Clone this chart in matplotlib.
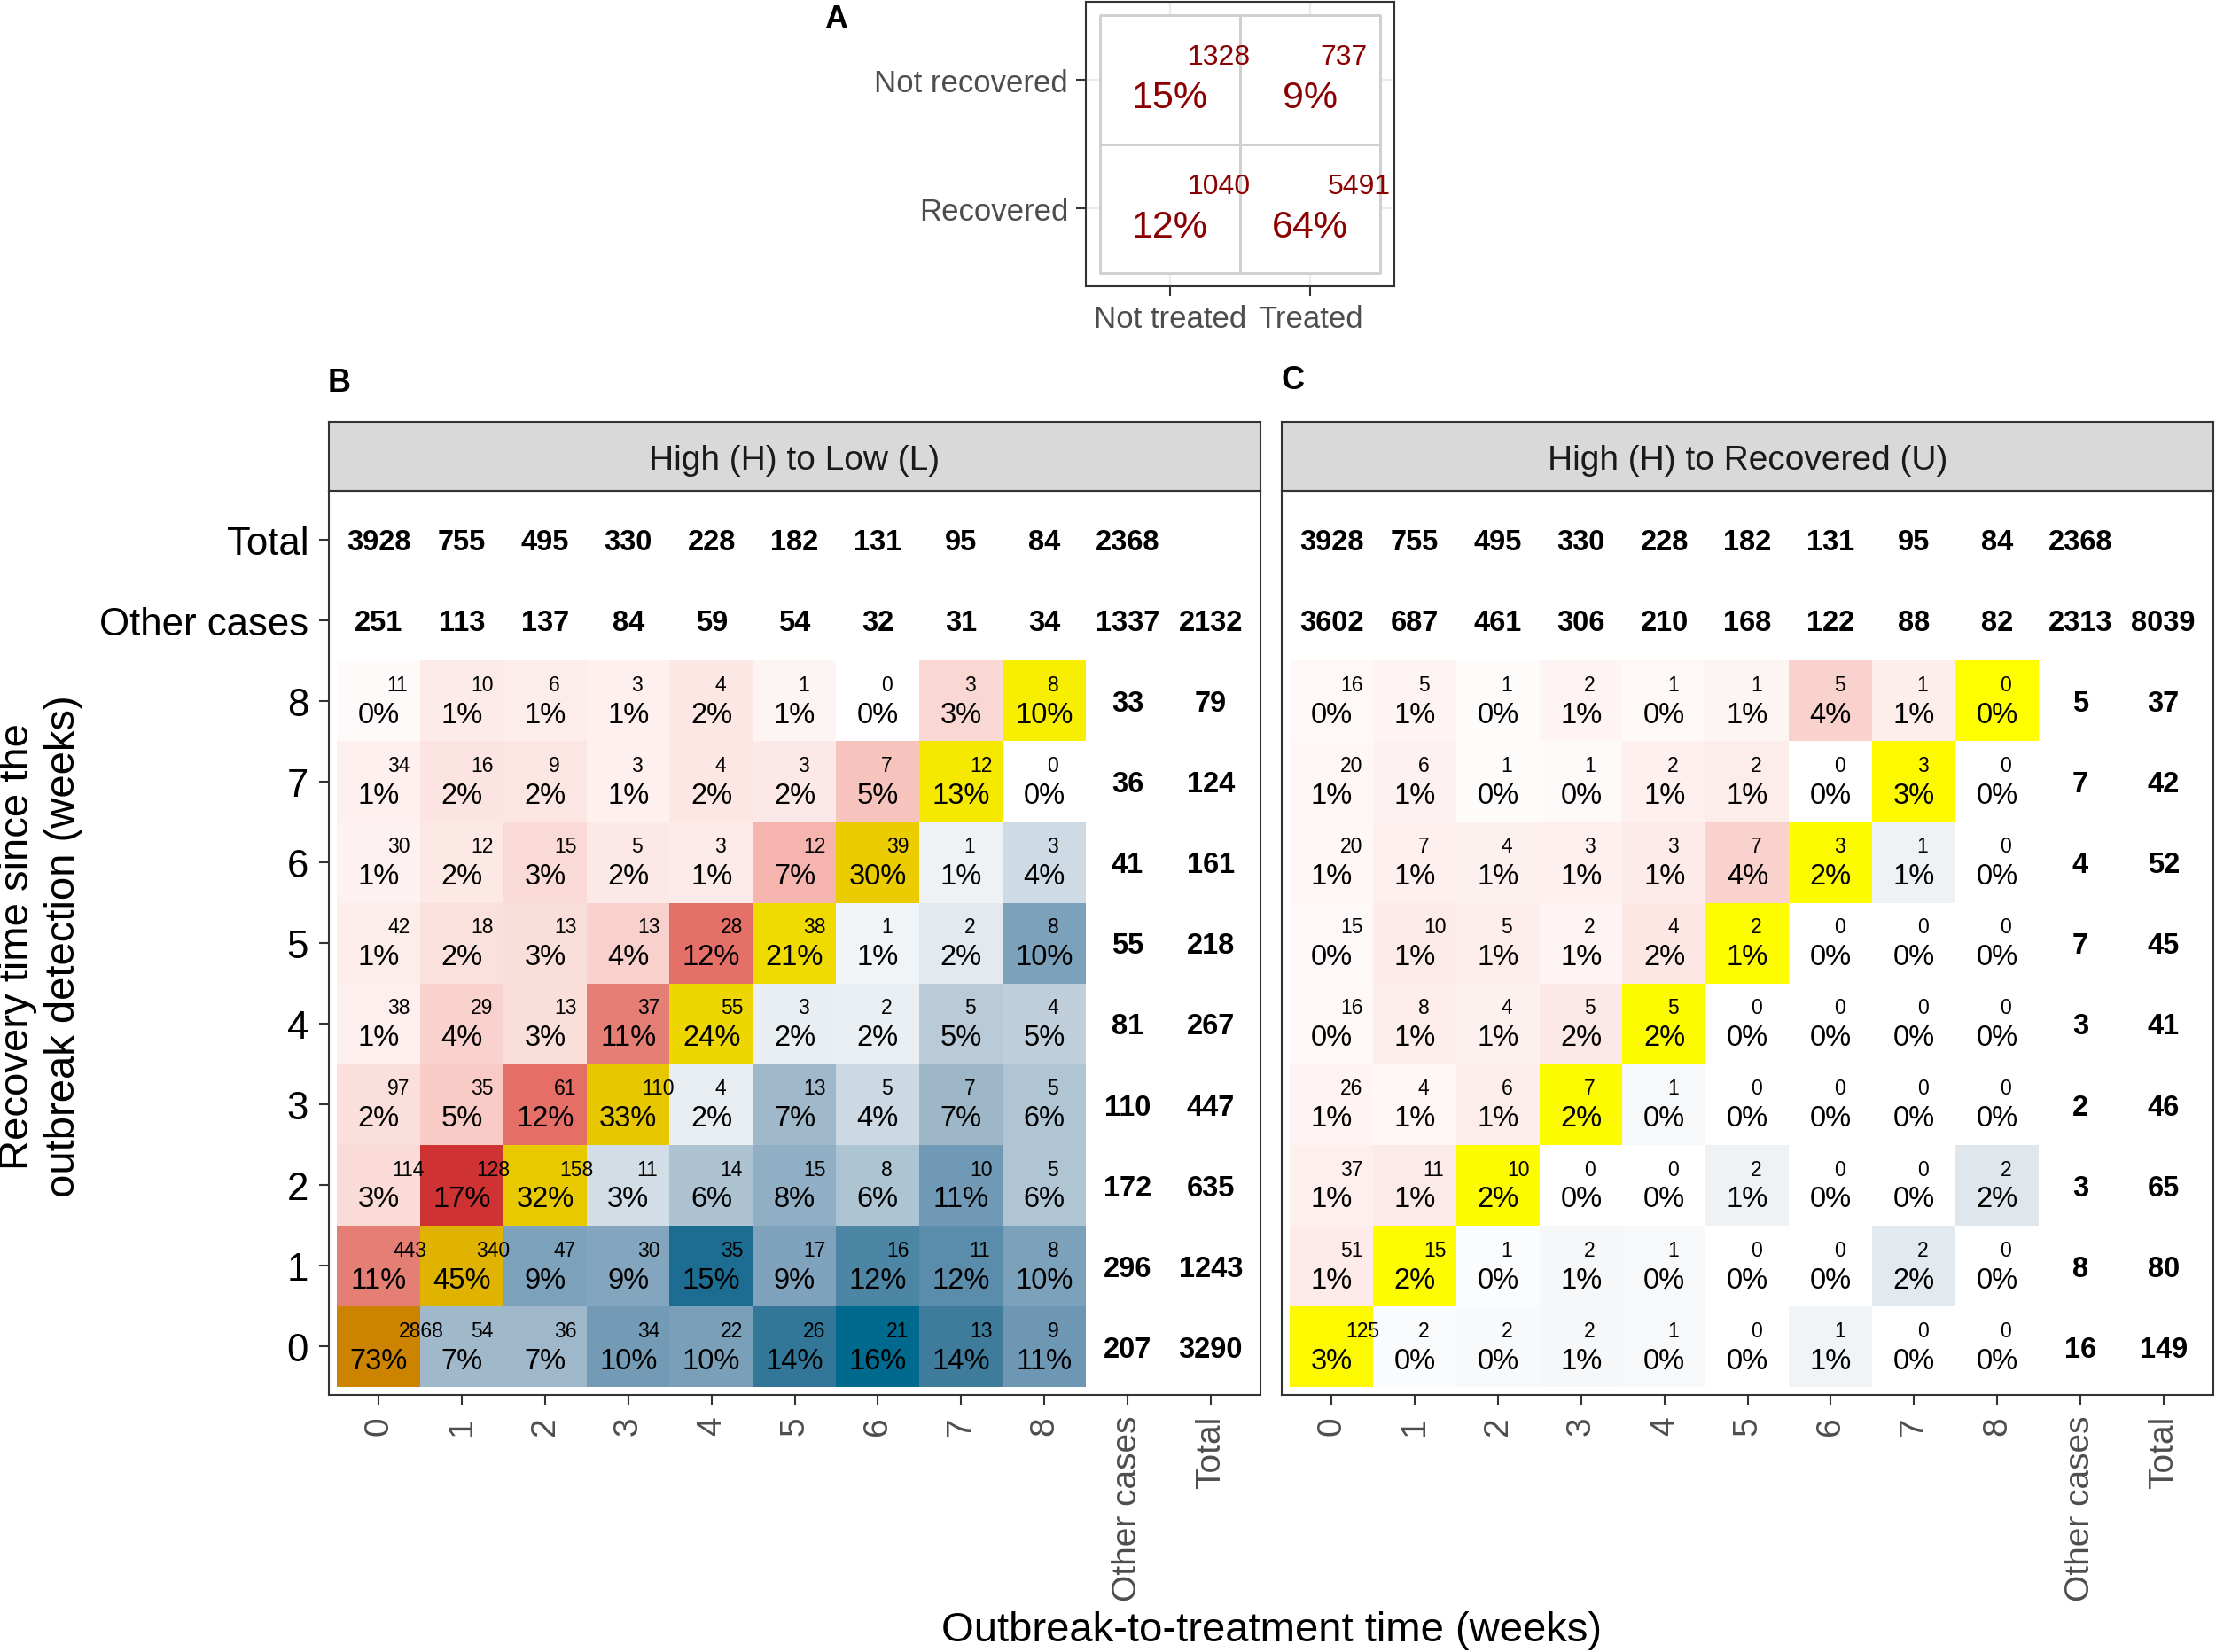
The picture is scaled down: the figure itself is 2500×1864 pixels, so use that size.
import numpy as np
import matplotlib
matplotlib.use("Agg")
import matplotlib.pyplot as plt
from matplotlib.colors import LinearSegmentedColormap, ListedColormap, to_rgb

plt.rcParams['font.family'] = ['Liberation Sans', 'DejaVu Sans']

# ---------------- data ----------------
week_labels = ['0', '1', '2', '3', '4', '5', '6', '7', '8']
axis_labels = week_labels + ['Other cases', 'Total']

# Total row (column totals) shared by panels B and C
total_row = [3928, 755, 495, 330, 228, 182, 131, 95, 84, 2368]

# Panel B: High (H) to Low (L); rows = recovery week 0..8, cols = treatment week 0..8
hl_counts = [
    [2868, 54, 36, 34, 22, 26, 21, 13, 9],
    [443, 340, 47, 30, 35, 17, 16, 11, 8],
    [114, 128, 158, 11, 14, 15, 8, 10, 5],
    [97, 35, 61, 110, 4, 13, 5, 7, 5],
    [38, 29, 13, 37, 55, 3, 2, 5, 4],
    [42, 18, 13, 13, 28, 38, 1, 2, 8],
    [30, 12, 15, 5, 3, 12, 39, 1, 3],
    [34, 16, 9, 3, 4, 3, 7, 12, 0],
    [11, 10, 6, 3, 4, 1, 0, 3, 8],
]
hl_other_col = [207, 296, 172, 110, 81, 55, 41, 36, 33]
hl_total_col = [3290, 1243, 635, 447, 267, 218, 161, 124, 79]
hl_other_row = [251, 113, 137, 84, 59, 54, 32, 31, 34, 1337, 2132]

# Panel C: High (H) to Recovered (U)
hu_counts = [
    [125, 2, 2, 2, 1, 0, 1, 0, 0],
    [51, 15, 1, 2, 1, 0, 0, 2, 0],
    [37, 11, 10, 0, 0, 2, 0, 0, 2],
    [26, 4, 6, 7, 1, 0, 0, 0, 0],
    [16, 8, 4, 5, 5, 0, 0, 0, 0],
    [15, 10, 5, 2, 4, 2, 0, 0, 0],
    [20, 7, 4, 3, 3, 7, 3, 1, 0],
    [20, 6, 1, 1, 2, 2, 0, 3, 0],
    [16, 5, 1, 2, 1, 1, 5, 1, 0],
]
hu_other_col = [16, 8, 3, 2, 3, 7, 4, 7, 5]
hu_total_col = [149, 80, 65, 46, 41, 45, 52, 42, 37]
hu_other_row = [3602, 687, 461, 306, 210, 168, 122, 88, 82, 2313, 8039]

# Panel A
a_row_labels = ['Recovered', 'Not recovered']
a_col_labels = ['Not treated', 'Treated']
a_counts = [[1040, 5491], [1328, 737]]

# ---------------- colour scales ----------------
red_stops = [(0.0, '#FFFFFF'), (0.01, '#FDEEEC'), (0.02, '#FCE5E2'), (0.03, '#FADAD6'),
             (0.05, '#F8C8C2'), (0.07, '#F5B0A8'), (0.113, '#E57E74'), (0.123, '#E67068'),
             (0.17, '#CF3232')]
blue_stops = [(0.0, '#FFFFFF'), (0.008, '#F1F4F7'), (0.017, '#E8EEF2'), (0.033, '#D3DEE6'),
              (0.05, '#BDCEDB'), (0.06, '#AFC5D4'), (0.0715, '#A0B9CB'), (0.082, '#91AFC5'),
              (0.095, '#7DA2BB'), (0.107, '#6E98B3'), (0.122, '#4E87A6'), (0.137, '#3F7C9C'),
              (0.1535, '#1E6E92'), (0.16, '#006A8E')]
yellow_stops = [(0.0, '#FFFF00'), (0.73, '#CC8400')]


def make_cmap(stops):
    pmax = stops[-1][0]
    return LinearSegmentedColormap.from_list('c', [(p / pmax, c) for p, c in stops]), pmax


red_cmap, red_max = make_cmap(red_stops)
blue_cmap, blue_max = make_cmap(blue_stops)
yel_cmap, yel_max = make_cmap(yellow_stops)


def cell_color(col, row, p):
    if col == row:
        return yel_cmap(min(p / yel_max, 1.0))[:3]
    if col < row:
        return red_cmap(min(p / red_max, 1.0))[:3]
    return blue_cmap(min(p / blue_max, 1.0))[:3]


# ---------------- figure ----------------
W, H = 2500, 1865
fig = plt.figure(figsize=(25, 18.65), dpi=100)
renderer = fig.canvas.get_renderer()


def px_axes(l, t, r, b):
    return fig.add_axes([l / W, 1 - b / H, (r - l) / W, (b - t) / H])


BORDER = '#333333'
TXTGRAY = '#4D4D4D'
PCT_FS = 23.5
CNT_FS = 16.5
BOLD_FS = 23.5


def style_spines(ax):
    for s in ax.spines.values():
        s.set_color(BORDER)
        s.set_linewidth(1.5)


def draw_matrix(ax, counts, other_col, total_col, other_row, show_y):
    n = len(counts)
    rgb = np.zeros((n, n, 3))
    for r in range(n):
        for c in range(n):
            rgb[r, c] = cell_color(c, r, counts[r][c] / total_row[c])
    ax.imshow(rgb, extent=(-0.5, n - 0.5, -0.5, n - 0.5), origin='lower',
              aspect='auto', interpolation='nearest', zorder=1)
    ax.set_xlim(-0.6, 10.6)
    ax.set_ylim(-0.6, 10.6)
    ax_px_x = ax.get_window_extent(renderer).width / 11.2
    for r in range(n):
        for c in range(n):
            v = counts[r][c]
            pct = int(np.floor(100.0 * v / total_row[c] + 0.5))
            ax.text(c, r - 0.266, f"{pct}%", ha='center', va='baseline',
                    fontsize=PCT_FS, color='black', zorder=3)
            t = ax.text(c, r + 0.128, str(v), ha='left', va='baseline',
                        fontsize=CNT_FS, color='black', zorder=3)
            w = t.get_window_extent(renderer).width / ax_px_x
            t.set_x(c - 0.03 + 0.5 * w)
        ax.text(9, r - 0.125, str(other_col[r]), ha='center', va='baseline',
                fontsize=BOLD_FS, fontweight='bold', zorder=3)
        ax.text(10, r - 0.125, str(total_col[r]), ha='center', va='baseline',
                fontsize=BOLD_FS, fontweight='bold', zorder=3)
    for i, v in enumerate(other_row):
        ax.text(i, 9 - 0.125, str(v), ha='center', va='baseline',
                fontsize=BOLD_FS, fontweight='bold', zorder=3)
    for i, v in enumerate(total_row):
        ax.text(i, 10 - 0.125, str(v), ha='center', va='baseline',
                fontsize=BOLD_FS, fontweight='bold', zorder=3)
    ax.set_xticks(range(11))
    ax.set_xticklabels(axis_labels, rotation=90, fontsize=28, color=TXTGRAY)
    ax.tick_params(axis='x', length=7.9, width=1.5, color=BORDER, pad=8.6)
    if show_y:
        ax.set_yticks(range(11))
        ax.set_yticklabels(axis_labels, fontsize=31.5, color='black')
        ax.tick_params(axis='y', length=7.9, width=1.5, color=BORDER, pad=8.6)
    else:
        ax.set_yticks([])
    style_spines(ax)


def draw_strip(l, t, r, b, label):
    sa = px_axes(l, t, r, b)
    sa.set_facecolor('#D9D9D9')
    sa.set_xticks([])
    sa.set_yticks([])
    style_spines(sa)
    sa.text(0.5, 0.5, label, transform=sa.transAxes, ha='center', va='center_baseline',
            fontsize=28, color='#1A1A1A')


# Panel B
axB = px_axes(371, 555, 1422, 1575)
draw_matrix(axB, hl_counts, hl_other_col, hl_total_col, hl_other_row, True)
draw_strip(371, 477, 1422, 555, 'High (H) to Low (L)')

# Panel C
axC = px_axes(1446, 555, 2497, 1575)
draw_matrix(axC, hu_counts, hu_other_col, hu_total_col, hu_other_row, False)
draw_strip(1446, 477, 2497, 555, 'High (H) to Recovered (U)')

# Panel A
axA = px_axes(1225, 3, 1573, 324)
axA.set_xlim(0.4, 2.6)
axA.set_ylim(0.4, 2.6)
for g in (1, 2):
    axA.axvline(g, color='#EBEBEB', lw=1.6, zorder=0)
    axA.axhline(g, color='#EBEBEB', lw=1.6, zorder=0)
edges = np.array([0.5, 1.5, 2.5])
axA.pcolormesh(edges, edges, np.zeros((2, 2)), cmap=ListedColormap(['white']),
               edgecolors='#D0D0D0', linewidth=1.0, zorder=1)
a_total = sum(sum(r) for r in a_counts)
axA_px_x = axA.get_window_extent(renderer).width / 2.2
for ri, row in enumerate(a_counts):
    for ci, v in enumerate(row):
        x, y = ci + 1, ri + 1
        pct = int(np.floor(100.0 * v / a_total + 0.5))
        axA.text(x, y - 0.215, f"{pct}%", ha='center', va='baseline', fontsize=31,
                 color='#8B0000', zorder=3)
        t = axA.text(x, y + 0.122, str(v), ha='left', va='baseline', fontsize=23,
                     color='#8B0000', zorder=3)
        w = t.get_window_extent(renderer).width / axA_px_x
        t.set_x(x - 0.1 + 0.5 * w)
axA.set_xticks([1, 2])
axA.set_xticklabels(a_col_labels, fontsize=25, color=TXTGRAY)
axA.set_yticks([1, 2])
axA.set_yticklabels(a_row_labels, fontsize=25, color=TXTGRAY)
axA.tick_params(length=7.9, width=1.5, color=BORDER, pad=6.5)
style_spines(axA)

# Panel letters
fig.text(943 / W, 1 - 22 / H, 'A', fontsize=26, fontweight='bold', ha='center', va='center')
fig.text(383 / W, 1 - 432 / H, 'B', fontsize=26, fontweight='bold', ha='center', va='center')
fig.text(1458 / W, 1 - 430 / H, 'C', fontsize=26, fontweight='bold', ha='center', va='center')

# Axis titles
fig.text(1435 / W, 1 - 1840 / H, 'Outbreak-to-treatment time (weeks)', fontsize=34,
         ha='center', va='center')
fig.text(46 / W, 1 - 1068 / H, 'Recovery time since the\noutbreak detection (weeks)',
         fontsize=34, ha='center', va='center', rotation=90, linespacing=1.25,
         multialignment='center')

fig.savefig('out.png', dpi=100)
